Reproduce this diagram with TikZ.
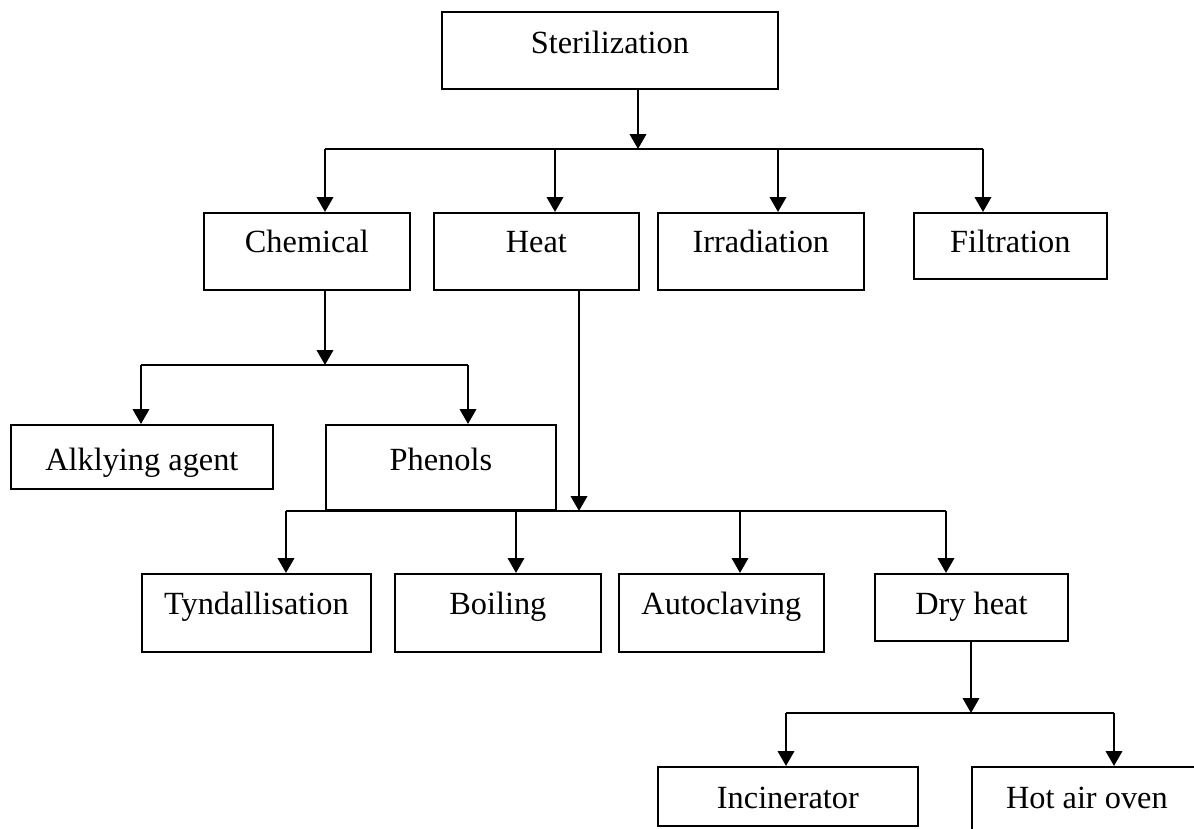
\documentclass[tikz,border=0pt]{standalone}
\usepackage{fontspec}
\setmainfont{Liberation Serif}
\usetikzlibrary{arrows.meta}

\begin{document}
\begin{tikzpicture}[box/.style={rectangle, draw, line width=0.5pt, inner sep=0pt, anchor=north west, font=\fontsize{9.2}{11}\selectfont},
  link/.style={line width=0.7pt},
  arr/.style={link, -{Triangle[length=4.2pt,width=4.6pt]}}]

\useasboundingbox (0,0) rectangle (11.94,-8.29);

\node (n1) at (4.41,-0.11) [box, minimum width=3.36cm, text height=0.42cm, text depth=0.35cm]{Sterilization};

\node (n2) at (2.03,-2.12) [box, minimum width=2.06cm, text height=0.40cm, text depth=0.37cm]{Chemical};
\node (n3) at (4.33,-2.12) [box, minimum width=2.05cm, text height=0.40cm, text depth=0.37cm]{Heat};
\node (n4) at (6.57,-2.12) [box, minimum width=2.06cm, text height=0.40cm, text depth=0.37cm]{Irradiation};
\node (n5) at (9.13,-2.12) [box, minimum width=1.93cm, text height=0.40cm, text depth=0.26cm]{Filtration};

\node (n6) at (0.10,-4.24) [box, minimum width=2.62cm, text height=0.46cm, text depth=0.18cm]{Alklying agent};
\node (n7) at (3.25,-4.24) [box, minimum width=2.30cm, text height=0.46cm, text depth=0.39cm]{Phenols};

\node (n8) at (1.41,-5.73) [box, minimum width=2.29cm, text height=0.41cm, text depth=0.37cm]{Tyndallisation};
\node (n9) at (3.94,-5.73) [box, minimum width=2.06cm, text height=0.41cm, text depth=0.37cm]{Boiling};
\node (n10) at (6.18,-5.73) [box, minimum width=2.05cm, text height=0.41cm, text depth=0.37cm]{Autoclaving};
\node (n11) at (8.74,-5.73) [box, minimum width=1.93cm, text height=0.41cm, text depth=0.26cm]{Dry heat};

\node (n12) at (6.57,-7.66) [box, minimum width=2.60cm, text height=0.42cm, text depth=0.17cm]{Incinerator};
\node (n13) at (9.71,-7.66) [box, minimum width=2.30cm, text height=0.42cm, text depth=0.39cm]{Hot air oven};

% junctions and drop points on the bars
\coordinate (j1) at (6.38,-1.49);
\coordinate (d2) at (3.25,-1.49);
\coordinate (d3) at (5.55,-1.49);
\coordinate (d4) at (7.78,-1.49);
\coordinate (d5) at (9.83,-1.49);

\coordinate (j2) at (3.25,-3.65);
\coordinate (d6) at (1.41,-3.65);
\coordinate (d7) at (4.68,-3.65);

\coordinate (j3) at (5.79,-5.11);
\coordinate (d8) at (2.86,-5.11);
\coordinate (d9) at (5.16,-5.11);
\coordinate (d10) at (7.40,-5.11);
\coordinate (d11) at (9.46,-5.11);

\coordinate (j4) at (9.71,-7.13);
\coordinate (d12) at (7.86,-7.13);
\coordinate (d13) at (11.14,-7.13);

\draw [arr] (n1.south -| j1) to (j1);
\draw [link] (d2) to (d5);
\foreach \d/\n in {d2/n2, d3/n3, d4/n4, d5/n5}
  \draw [arr] (\d) to (\d |- \n.north);

\draw [arr] (n2.south -| j2) to (j2);
\draw [link] (d6) to (d7);
\foreach \d/\n in {d6/n6, d7/n7}
  \draw [arr] (\d) to (\d |- \n.north);

\draw [arr] (n3.south -| j3) to (j3);
\draw [link] (d8) to (d11);
\foreach \d/\n in {d8/n8, d9/n9, d10/n10, d11/n11}
  \draw [arr] (\d) to (\d |- \n.north);

\draw [arr] (n11.south -| j4) to (j4);
\draw [link] (d12) to (d13);
\foreach \d/\n in {d12/n12, d13/n13}
  \draw [arr] (\d) to (\d |- \n.north);

\end{tikzpicture}
\end{document}
